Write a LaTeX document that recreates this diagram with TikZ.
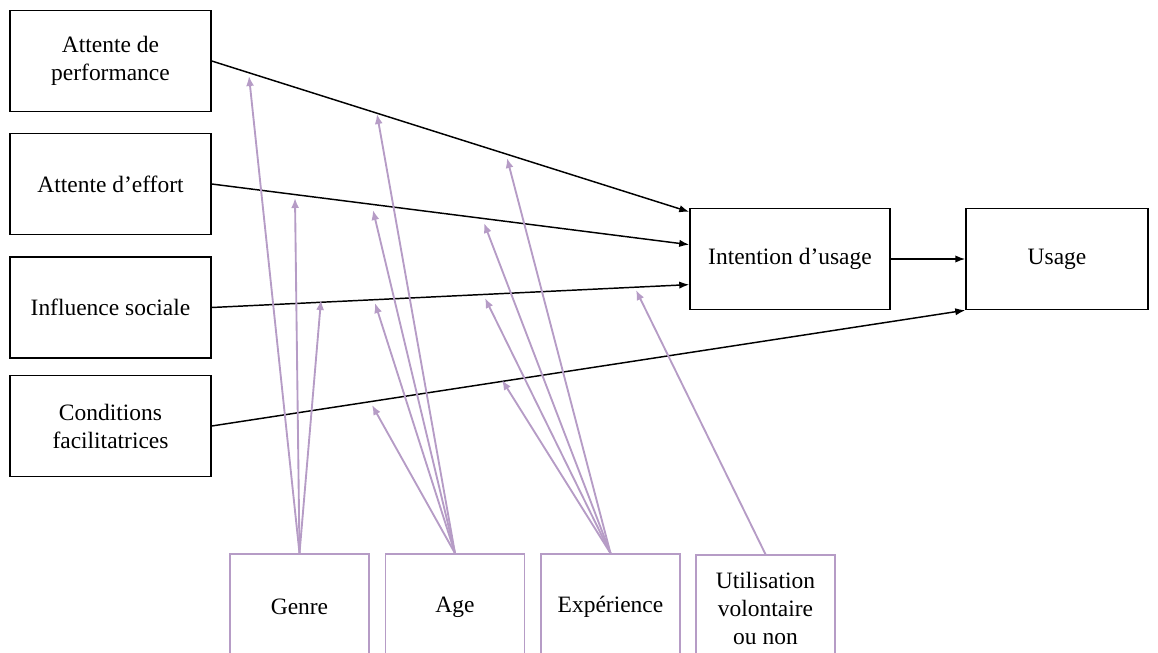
\documentclass[tikz,border=0pt]{standalone}
\usepackage{fontspec}
\setmainfont{Liberation Serif}
\usetikzlibrary{arrows.meta,calc}
\definecolor{mauve}{RGB}{182,156,198}
\tikzset{every picture/.style={line width=0.75pt}}
\tikzset{
  facteur/.style={draw, line width=1.1pt, minimum width=150.75pt, minimum height=75.75pt, align=center, font=\fontsize{17.6}{21}\selectfont},
  modbox/.style={draw=mauve, line width=1.1pt, minimum width=104.25pt, minimum height=79.5pt, align=center, font=\fontsize{17.6}{21}\selectfont},
  lien/.style={line width=1.1pt, -{Latex[length=7.5pt,width=5.5pt]}},
  modlien/.style={draw=mauve, line width=1.4pt, -{Latex[length=7.5pt,width=6pt]}}
}

\begin{document}
\begin{tikzpicture}[x=0.75pt,y=0.75pt,yscale=-1,xscale=1]
\useasboundingbox (0,0) rectangle (1158,653);
\clip (0,0) rectangle (1158,653);

%Shape: Rectangle (determinants)
\node[facteur] (perf) at (110.5,61) {Attente de\\performance};
\node[facteur] (effort) at (110.5,184) {Attente d'effort};
\node[facteur] (influence) at (110.5,307.5) {Influence sociale};
\node[facteur] (conditions) at (110.5,426) {Conditions\\facilitatrices};
%Shape: Rectangle (intention, usage)
\node[facteur, minimum width=150pt] (intention) at (790,259) {Intention d'usage};
\node[facteur, minimum width=136.5pt] (usage) at (1057,259) {Usage};
%Shape: Rectangle (moderateurs)
\node[modbox] (genre) at (299.5,607) {Genre};
\node[modbox] (age) at (455,607) {Age};
\node[modbox] (experience) at (610.5,607) {Exp\'erience};
\node[modbox] (volontaire) at (765.5,608) {Utilisation\\volontaire\\ou non};

%Straight Lines
\draw[lien] (perf.east) -- ($(intention.north west)!0.04!(intention.south west)$);
\draw[lien] (effort.east) -- ($(intention.north west)!0.36!(intention.south west)$);
\draw[lien] (influence.east) -- ($(intention.north west)!0.75!(intention.south west)$);
\draw[lien] (conditions.east) -- (usage.south west);
\draw[lien] (intention) -- (usage);

% moderating effects
\coordinate (g1) at (249,76);
\coordinate (g2) at (295,198);
\coordinate (g3) at (321,300);
\coordinate (a1) at (377,114);
\coordinate (a2) at (373,210);
\coordinate (a3) at (375,303);
\coordinate (a4) at (372,405);
\coordinate (e1) at (507,158);
\coordinate (e2) at (484,223);
\coordinate (e3) at (485,298);
\coordinate (e4) at (502,380);
\coordinate (v1) at (636,290);
\foreach \c in {g1,g2,g3} \draw[modlien] (genre.north) -- (\c);
\foreach \c in {a1,a2,a3,a4} \draw[modlien] (age.north) -- (\c);
\foreach \c in {e1,e2,e3,e4} \draw[modlien] (experience.north) -- (\c);
\draw[modlien] (volontaire.north) -- (v1);

\end{tikzpicture}
\end{document}
